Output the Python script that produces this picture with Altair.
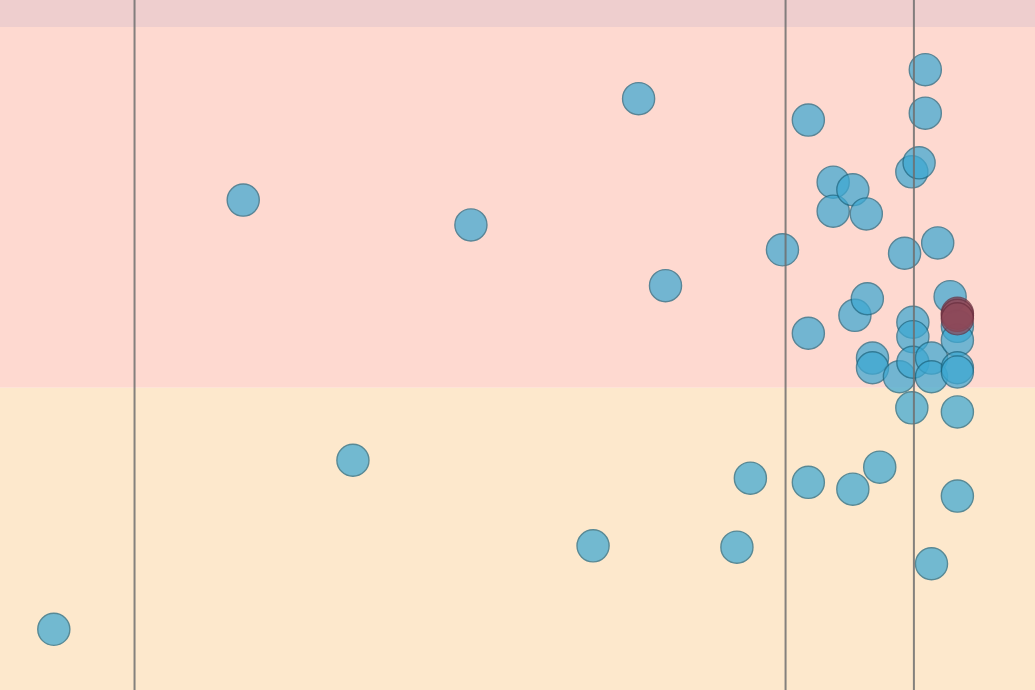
import altair as alt
import pandas as pd

# Point values (x, y in data units 0-100)
xs = [5.2, 23.5, 34.1, 45.5, 57.3, 61.7, 64.3, 71.2, 72.5, 75.6, 78.1, 78.1, 78.1,
      80.5, 80.5, 82.4, 83.7, 82.6, 83.8, 82.4, 85.0, 84.3, 84.3, 86.9, 87.4, 88.1,
      88.8, 89.4, 89.4, 88.2, 88.2, 88.2, 88.1, 90.0, 90.0, 90.0, 90.6, 91.8, 92.5,
      92.5, 92.5, 92.5, 92.5, 92.5, 92.5, 92.5, 92.5]
ys = [8.8, 71.0, 33.3, 67.4, 20.9, 85.7, 58.6, 20.7, 30.7, 63.8, 82.6, 51.7, 30.1,
      73.6, 69.4, 72.5, 69.0, 54.3, 56.7, 29.1, 32.3, 48.1, 46.7, 45.4, 63.3, 75.1,
      76.4, 89.9, 83.6, 53.3, 51.2, 47.5, 40.9, 48.1, 45.4, 18.3, 64.8, 57.0, 52.7,
      50.7, 46.7, 46.1, 40.3, 28.1, 54.6, 54.3, 53.8]
groups = ["other"] * 44 + ["highlight"] * 3

# Background bands
band_lo = [96.1, 43.8, 0.0]
band_hi = [100.0, 96.1, 43.8]
band_names = ["top", "mid", "low"]
band_colors = ["#EECECE", "#FED9D0", "#FDE8CC"]

# Vertical reference lines
vlines = [13.0, 75.9, 88.3]

pts = pd.DataFrame({"x": xs, "y": ys, "g": groups})
bands = pd.DataFrame({"lo": band_lo, "hi": band_hi, "name": band_names})
lines = pd.DataFrame({"x": vlines})

W, H = 1035, 690
xsc = alt.Scale(domain=[0, 100], nice=False, zero=False)
ysc = alt.Scale(domain=[0, 100], nice=False, zero=False)

band_layer = alt.Chart(bands).mark_rect().encode(
    x=alt.datum(0, scale=xsc, axis=None),
    x2=alt.datum(100),
    y=alt.Y("lo:Q", scale=ysc, axis=None),
    y2="hi:Q",
    color=alt.Color("name:N", scale=alt.Scale(domain=band_names, range=band_colors), legend=None),
)

pt_layer = alt.Chart(pts).mark_circle(size=1030, opacity=0.72, strokeWidth=1.4).encode(
    x=alt.X("x:Q", scale=xsc, axis=None),
    y=alt.Y("y:Q", scale=ysc, axis=None),
    fill=alt.Fill("g:N", scale=alt.Scale(domain=["other", "highlight"], range=["#3DA8D2", "#8E4858"]), legend=None),
    stroke=alt.Stroke("g:N", scale=alt.Scale(domain=["other", "highlight"], range=["#1A6580", "#6A2E3E"]), legend=None),
    order=alt.Order("g:N", sort="descending"),
)

line_layer = alt.Chart(lines).mark_rule(color="#6E6E6E", strokeWidth=2, opacity=0.85).encode(
    x=alt.X("x:Q", scale=xsc, axis=None),
    y=alt.datum(0, scale=ysc),
    y2=alt.datum(100),
)

chart = alt.layer(band_layer, pt_layer, line_layer).resolve_scale(
    color="independent"
).properties(
    width=W, height=H, padding=0, autosize=alt.AutoSizeParams(type="none")
).configure_view(strokeWidth=0)

chart.save("out.html", embed_options={"renderer": "svg", "actions": False})
